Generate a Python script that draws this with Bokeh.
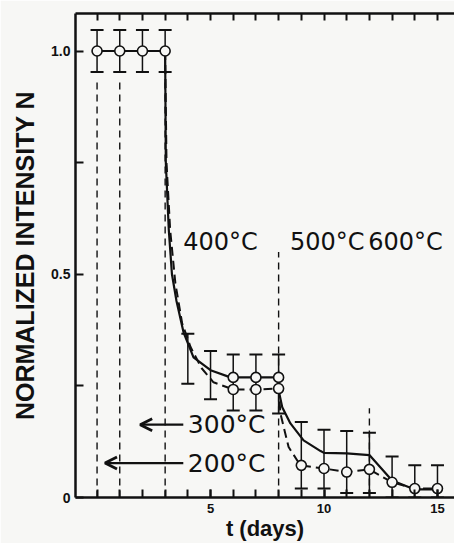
from bokeh.plotting import figure
from bokeh.models import (ColumnDataSource, Whisker, TeeHead, LinearAxis, FixedTicker,
                          Range1d, Arrow, OpenHead)
from bokeh.embed import file_html
from bokeh.resources import INLINE
from bokeh.core.properties import value

# ---------------- data ----------------
top_days = [0, 1, 2, 3]
top_n = [1.0, 1.0, 1.0, 1.0]
top_lo = [0.953, 0.953, 0.953, 0.953]
top_hi = [1.047, 1.047, 1.047, 1.047]

upper_days = [6, 7, 8]
upper_n = [0.269, 0.269, 0.269]

lower_days = [6, 7, 8, 9, 10, 11, 12, 13, 14, 15]
lower_n = [0.242, 0.242, 0.244, 0.072, 0.065, 0.057, 0.063, 0.034, 0.020, 0.020]

err_days = [4, 5, 6, 7, 8, 9, 10, 11, 12, 13, 14, 15]
err_lo = [0.255, 0.220, 0.195, 0.195, 0.188, 0.020, 0.020, 0.010, 0.010, 0.0, 0.0, 0.0]
err_hi = [0.367, 0.328, 0.320, 0.320, 0.320, 0.169, 0.152, 0.149, 0.145, 0.092, 0.072, 0.072]

solid_t = [0, 1, 2, 3, 3.03, 3.16, 3.3, 3.5, 3.81, 4.25, 5.0, 5.88, 6, 7, 8,
           8.03, 8.16, 8.52, 9.1, 9.85, 10, 11, 12, 13, 14, 15]
solid_n = [1.0, 1.0, 1.0, 1.0, 0.75, 0.60, 0.50, 0.44, 0.37, 0.314, 0.285, 0.269, 0.269, 0.269, 0.269,
           0.233, 0.202, 0.166, 0.128, 0.104, 0.100, 0.099, 0.095, 0.038, 0.018, 0.018]

dashed_t = [3, 3.06, 3.22, 3.45, 3.75, 4.12, 4.6, 5.13, 6, 7, 8,
            8.08, 8.44, 8.96, 10, 11, 12, 13, 14, 15]
dashed_n = [1.0, 0.75, 0.60, 0.48, 0.39, 0.337, 0.29, 0.258, 0.242, 0.242, 0.244,
            0.188, 0.113, 0.072, 0.065, 0.057, 0.063, 0.034, 0.020, 0.020]

boundary_days = [0, 1, 3, 8, 12]
boundary_top = [0.94, 0.94, 0.94, 0.55, 0.20]

temp_labels = ["400°C", "500°C", "600°C"]
temp_label_t = [3.8, 8.5, 11.95]
temp_label_n = [0.572, 0.572, 0.572]

arrow_labels = ["300°C", "200°C"]
arrow_tip_t = [1.9, 0.35]
arrow_tail_t = [3.8, 3.8]
arrow_n = [0.163, 0.077]
arrow_label_t = [4.0, 4.0]

x_major = [5, 10, 15]
x_minor = list(range(0, 16))
y_major = [0, 0.5, 1.0]
y_minor = [0.25, 0.75]
y_tick_labels = {0: "0", 0.5: "0.5", 1.0: "1.0"}

# ---------------- figure ----------------
BG = "#f7f7f5"
INK = "#111111"

p = figure(width=454, height=543,
           x_range=Range1d(-0.95, 15.75), y_range=Range1d(0, 1.084),
           output_backend="svg", toolbar_location=None,
           min_border_left=75, min_border_right=0, min_border_top=13, min_border_bottom=46,
           background_fill_color=BG, border_fill_color=BG, outline_line_color=None)
p.grid.visible = False

xa = p.xaxis[0]
xa.ticker = FixedTicker(ticks=x_major, minor_ticks=x_minor)
xa.axis_label = "t (days)"
ya = p.yaxis[0]
ya.ticker = FixedTicker(ticks=y_major, minor_ticks=y_minor)
ya.major_label_overrides = y_tick_labels
ya.axis_label = "NORMALIZED INTENSITY N"

for ax in (xa, ya):
    ax.axis_line_width = 2.5
    ax.axis_line_color = INK
    ax.major_tick_in = 8
    ax.major_tick_out = 0
    ax.major_tick_line_width = 2
    ax.major_tick_line_color = INK
    ax.minor_tick_in = 8
    ax.minor_tick_out = 0
    ax.minor_tick_line_width = 2
    ax.minor_tick_line_color = INK
    ax.major_label_text_font = "Liberation Sans"
    ax.major_label_text_font_style = "bold"
    ax.major_label_text_color = INK
    ax.axis_label_text_font = "Liberation Sans"
    ax.axis_label_text_font_style = "bold"
    ax.axis_label_text_color = INK

xa.major_label_text_font_size = "13px"
xa.major_label_standoff = 6
xa.axis_label_standoff = 0
xa.axis_label_text_font_size = "22px"
ya.major_label_text_font_size = "14px"
ya.major_label_standoff = 5
ya.axis_label_standoff = 9
ya.axis_label_text_font_size = "25px"

top_axis = LinearAxis(ticker=FixedTicker(ticks=[], minor_ticks=x_minor))
top_axis.axis_line_width = 2.5
top_axis.axis_line_color = INK
top_axis.major_tick_in = 7
top_axis.major_tick_out = 0
top_axis.minor_tick_in = 7
top_axis.minor_tick_out = 0
top_axis.minor_tick_line_width = 2
top_axis.minor_tick_line_color = INK
top_axis.major_label_standoff = 0
p.add_layout(top_axis, "above")

# boundary dashed lines
p.segment(x0=boundary_days, y0=[0] * len(boundary_days), x1=boundary_days, y1=boundary_top,
          line_color=INK, line_width=1.4, line_dash="7 5")

# curves
p.line(solid_t, solid_n, line_color=INK, line_width=2.2)
p.line(dashed_t, dashed_n, line_color=INK, line_width=2.0, line_dash="9 5")

# error bars
src_top = ColumnDataSource(dict(x=top_days, lo=top_lo, hi=top_hi))
src_err = ColumnDataSource(dict(x=err_days, lo=err_lo, hi=err_hi))
for src in (src_top, src_err):
    p.add_layout(Whisker(source=src, base="x", lower="lo", upper="hi",
                         line_color=INK, line_width=1.5,
                         lower_head=TeeHead(size=13, line_width=2, line_color=INK),
                         upper_head=TeeHead(size=13, line_width=2, line_color=INK)))

# markers
for xs, ys in ((top_days, top_n), (upper_days, upper_n), (lower_days, lower_n)):
    p.scatter(xs, ys, marker="circle", size=10, fill_color=BG,
              line_color=INK, line_width=1.6)

# temperature labels
p.text(x=temp_label_t, y=temp_label_n, text=temp_labels, text_font=value("DejaVu Sans"),
       text_font_size="24px", text_baseline="middle", text_align="left", text_color=INK)

for tip, tail, yy in zip(arrow_tip_t, arrow_tail_t, arrow_n):
    p.add_layout(Arrow(x_start=tail, y_start=yy, x_end=tip, y_end=yy,
                       line_color=INK, line_width=2.2,
                       end=OpenHead(size=12, line_width=2.8, line_color=INK)))
p.text(x=arrow_label_t, y=arrow_n, text=arrow_labels, text_font=value("DejaVu Sans"),
       text_font_size="25px", text_baseline="middle", text_align="left", text_color=INK)

open("out.html", "w").write(file_html(p, INLINE))
